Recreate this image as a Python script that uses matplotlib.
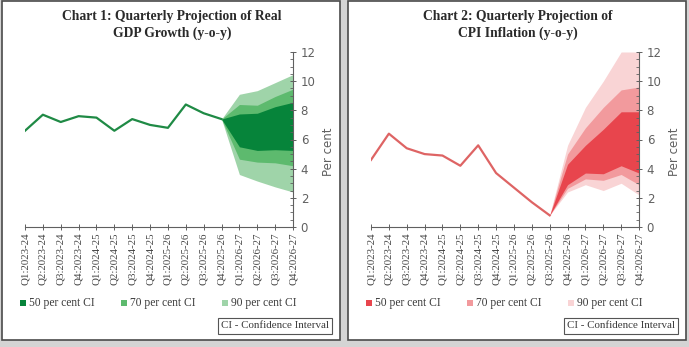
import matplotlib
matplotlib.use("Agg")
import matplotlib.pyplot as plt
from matplotlib.patches import Rectangle
from matplotlib.ticker import MultipleLocator

quarters = ["Q1:2023-24", "Q2:2023-24", "Q3:2023-24", "Q4:2023-24",
            "Q1:2024-25", "Q2:2024-25", "Q3:2024-25", "Q4:2024-25",
            "Q1:2025-26", "Q2:2025-26", "Q3:2025-26", "Q4:2025-26",
            "Q1:2026-27", "Q2:2026-27", "Q3:2026-27", "Q4:2026-27"]

# real GDP growth, actuals up to Q4:2025-26
gdp_actual = [6.6, 7.7, 7.2, 7.6, 7.5, 6.6, 7.4, 7.0, 6.8, 8.4, 7.8, 7.4]
# fan bands from the last actual through Q4:2026-27
gdp_90_hi = [7.4, 9.1, 9.35, 9.9, 10.45]
gdp_70_hi = [7.4, 8.4, 8.35, 8.95, 9.45]
gdp_50_hi = [7.4, 7.75, 7.8, 8.25, 8.55]
gdp_50_lo = [7.4, 5.5, 5.25, 5.3, 5.25]
gdp_70_lo = [7.4, 4.65, 4.45, 4.4, 4.2]
gdp_90_lo = [7.4, 3.6, 3.15, 2.75, 2.4]

# CPI inflation, actuals up to Q3:2025-26
cpi_actual = [4.6, 6.4, 5.4, 5.0, 4.9, 4.2, 5.6, 3.7, 2.7, 1.7, 0.8]
cpi_90_hi = [0.8, 5.6, 8.2, 10.0, 12.0, 12.0]
cpi_70_hi = [0.8, 5.0, 6.8, 8.2, 9.4, 9.6]
cpi_50_hi = [0.8, 4.3, 5.6, 6.7, 7.9, 7.9]
cpi_50_lo = [0.8, 2.9, 3.7, 3.65, 4.2, 3.7]
cpi_70_lo = [0.8, 2.65, 3.3, 3.2, 3.6, 2.9]
cpi_90_lo = [0.8, 2.4, 2.9, 2.5, 3.0, 2.2]

W, H = 689, 347
fig = plt.figure(figsize=(W / 100, H / 100), dpi=100)
fig.patch.set_facecolor("#d4d4d4")

SERIF = "Liberation Serif"
AX_COL = "#606060"


def px_box(x0, y0, x1, y1):
    # pixel box (top-left origin) -> figure fraction rect
    return [x0 / W, 1 - y1 / H, (x1 - x0) / W, (y1 - y0) / H]


def panel(ox, title, actual, bands, line_col, band_cols):
    fig.add_artist(Rectangle((ox / W, 7 / H), 338 / W, 1 - 7.5 / H,
                             transform=fig.transFigure, facecolor="white",
                             edgecolor="#4a4a4a", linewidth=1.2, zorder=0))
    fig.text((ox + 170) / W, 1 - 25 / H, title, ha="center", va="center",
             fontsize=9.8, fontweight="bold", family=SERIF,
             color="#2a2a2a", linespacing=1.3)

    ax = fig.add_axes(px_box(ox + 23, 52, ox + 291, 227))
    ax.set_facecolor("none")
    x = list(range(len(quarters)))
    start = len(actual) - 1
    fx = x[start:]
    hi90, hi70, hi50, lo50, lo70, lo90 = bands
    ax.fill_between(fx, lo90, hi90, color=band_cols[2], linewidth=0)
    ax.fill_between(fx, lo70, hi70, color=band_cols[1], linewidth=0)
    ax.fill_between(fx, lo50, hi50, color=band_cols[0], linewidth=0)
    ax.plot(x[:len(actual)], actual, color=line_col, linewidth=1.6)

    ax.set_xlim(0, len(quarters) - 1)
    ax.set_ylim(0, 12)
    for s in ("top", "left"):
        ax.spines[s].set_visible(False)
    for s in ("right", "bottom"):
        ax.spines[s].set_color(AX_COL)
        ax.spines[s].set_linewidth(0.8)
    ax.yaxis.tick_right()
    ax.yaxis.set_label_position("right")
    ax.yaxis.set_major_locator(MultipleLocator(2))
    ax.yaxis.set_minor_locator(MultipleLocator(0.5))
    ax.tick_params(axis="y", which="major", direction="inout", length=5,
                   width=0.7, color=AX_COL, labelsize=8.5,
                   labelcolor="#606060", pad=3)
    ax.tick_params(axis="y", which="minor", direction="in", length=2.5,
                   width=0.6, color=AX_COL)
    ax.set_ylabel("Per cent", fontsize=8.5, color="#606060", labelpad=4)
    ax.yaxis.set_label_coords(1.11, 0.43)
    ax.set_xticks(x)
    ax.set_xticklabels(quarters, rotation=90, family=SERIF, fontsize=7.8,
                       color="#444444")
    ax.tick_params(axis="x", direction="inout", length=4, width=0.7,
                   color=AX_COL, pad=2)

    labels = ["50 per cent CI", "70 per cent CI", "90 per cent CI"]
    for i, (lab, col) in enumerate(zip(labels, band_cols)):
        lx = ox + 18 + i * 101
        fig.add_artist(Rectangle((lx / W, 1 - 306 / H), 6 / W, 6 / H,
                                 transform=fig.transFigure, facecolor=col,
                                 edgecolor="none"))
        fig.text((lx + 9) / W, 1 - 303 / H, lab, ha="left", va="center",
                 family=SERIF, fontsize=8.3, color="#3a3a3a")
    fig.text((ox + 273) / W, 1 - 326 / H, "CI - Confidence Interval",
             ha="center", va="center", family=SERIF, fontsize=7.9,
             color="#3a3a3a",
             bbox=dict(boxstyle="square,pad=0.3", facecolor="white",
                       edgecolor="#555555", linewidth=0.8))


panel(2, "Chart 1: Quarterly Projection of Real\nGDP Growth (y-o-y)",
      gdp_actual,
      (gdp_90_hi, gdp_70_hi, gdp_50_hi, gdp_50_lo, gdp_70_lo, gdp_90_lo),
      "#1f8a45", ["#06843a", "#5dba6e", "#9fd4a9"])

panel(348, "Chart 2: Quarterly Projection of\nCPI Inflation (y-o-y)",
      cpi_actual,
      (cpi_90_hi, cpi_70_hi, cpi_50_hi, cpi_50_lo, cpi_70_lo, cpi_90_lo),
      "#de6464", ["#e8454d", "#f29a9d", "#f9d4d5"])

fig.savefig("out.png", dpi=100, facecolor=fig.get_facecolor())
